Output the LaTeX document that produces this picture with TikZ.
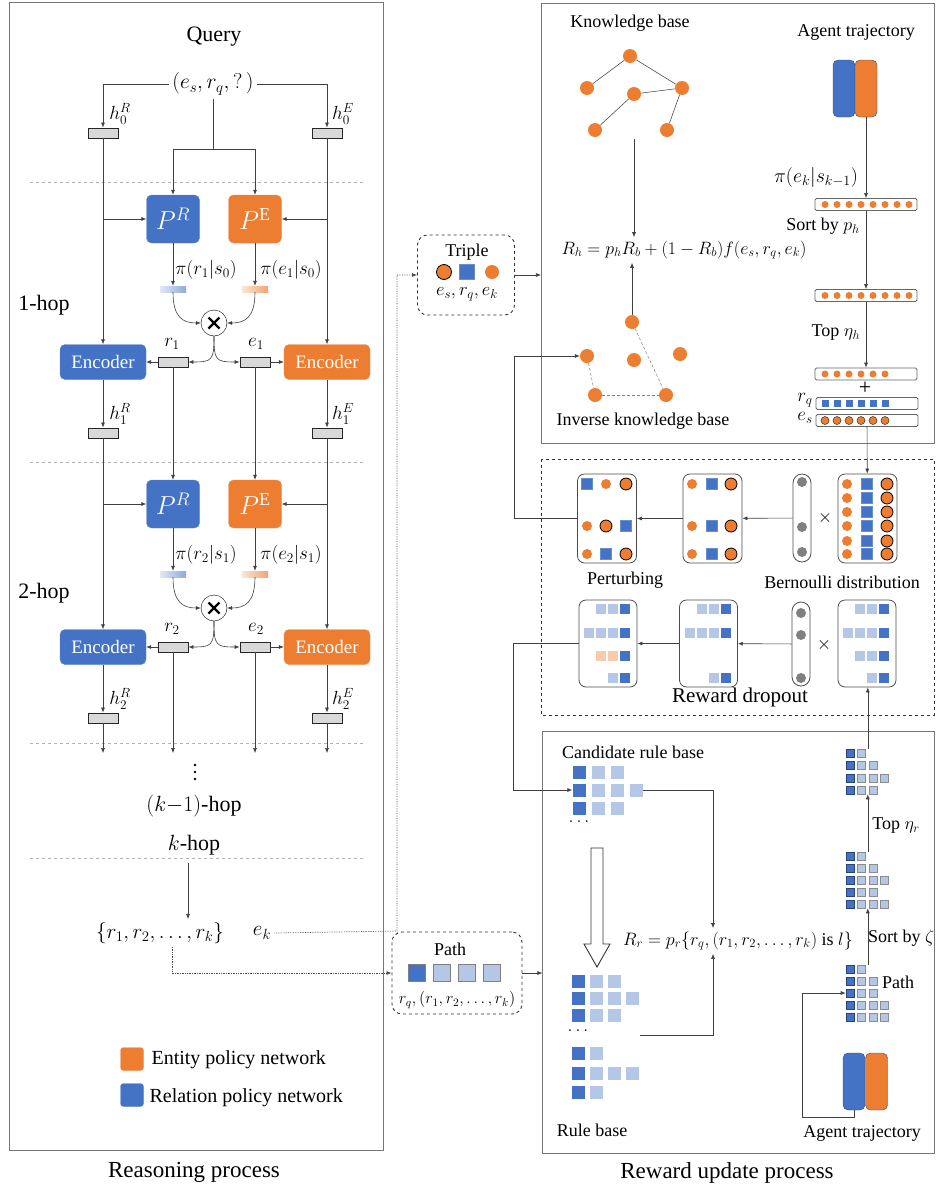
\documentclass[tikz,border=0pt]{standalone}
\usepackage{fix-cm}
\usepackage{amsmath}
\usepackage{fontspec}
\setmainfont{Liberation Serif}
\usetikzlibrary{arrows.meta, positioning, calc}

\definecolor{relblue}{HTML}{4472C4}
\definecolor{entorange}{HTML}{ED7D31}
\definecolor{paleblue}{HTML}{B4C7E7}
\definecolor{paleorange}{HTML}{F8CBAD}
\definecolor{boxgray}{HTML}{D9D9D9}
\definecolor{framegray}{HTML}{767676}

\begin{document}
\begin{tikzpicture}[x=1pt, y=-1pt, >={Latex[length=5pt,width=4pt]},
	txt/.style={font=\fontsize{18}{20}\selectfont, inner sep=1pt},
	bigtxt/.style={font=\fontsize{22}{24}\selectfont, inner sep=1pt},
	captxt/.style={font=\fontsize{23}{26}\selectfont, inner sep=1pt},
	mtxt/.style={font=\fontsize{19}{21}\selectfont, inner sep=1pt},
	rnet/.style={fill=relblue, draw=relblue!85!white, rounded corners=5pt, text=white, inner sep=0pt},
	enet/.style={fill=entorange, draw=entorange!85!white, rounded corners=5pt, text=white, inner sep=0pt},
	encbox/.style={minimum width=86pt, minimum height=35pt, font=\fontsize{19}{20}\selectfont},
	pbox/.style={minimum width=53pt, minimum height=48pt, font=\fontsize{26}{28}\selectfont},
	hbox/.style={draw=black!85, fill=boxgray, line width=0.9pt, minimum width=30pt, minimum height=10pt, inner sep=0pt},
	pbar/.style={minimum width=26pt, minimum height=6pt, inner sep=0pt},
	mult/.style={draw, circle, minimum size=26pt, inner sep=0pt},
	cross/.style={line width=2.4pt, black},
	flow/.style={->, black!75, line width=0.6pt},
	plain/.style={black!75, line width=0.6pt},
	sep/.style={dashed, black!30, line width=0.6pt},
	dotline/.style={->, densely dotted, black!70, line width=0.7pt},
	frame/.style={framegray, line width=0.8pt},
	kbnode/.style={circle, fill=entorange, minimum size=14pt, inner sep=0pt},
	odot/.style={circle, fill=entorange, minimum size=10pt, inner sep=0pt},
	ocirc/.style={circle, fill=entorange, draw=black, line width=0.8pt, minimum size=12pt, inner sep=0pt},
	bsq/.style={fill=relblue, draw=relblue!80!white, minimum size=11pt, inner sep=0pt},
	gdot/.style={circle, fill=black!50, minimum size=10pt, inner sep=0pt},
	vdot/.style={circle, fill=black, minimum size=2.6pt, inner sep=0pt},
	itembox/.style={draw=black!70, rounded corners=7pt, line width=0.8pt, minimum width=59pt, minimum height=89pt},
	pill/.style={draw=black!70, rounded corners=9pt, line width=0.8pt, minimum width=18pt},
	dotbar/.style={draw=black!60, rounded corners=1.5pt, line width=0.8pt, minimum width=102pt, minimum height=12pt, inner sep=0pt},
	lsq/.style={fill=paleblue, minimum size=10pt, inner sep=0pt},
	dsq/.style={fill=relblue, minimum size=10pt, inner sep=0pt},
	posq/.style={fill=paleorange, minimum size=10pt, inner sep=0pt},
	clsq/.style={fill=paleblue, minimum size=13pt, inner sep=0pt},
	cdsq/.style={fill=relblue, minimum size=13pt, inner sep=0pt},
	tlsq/.style={fill=paleblue, draw=black!45, line width=0.6pt, minimum size=8pt, inner sep=0pt},
	tdsq/.style={fill=relblue, draw=relblue!60!black, line width=0.6pt, minimum size=8pt, inner sep=0pt}]
	\useasboundingbox (0,0) rectangle (935,1189);
	%%% Reasoning process
	\draw[frame] (9,2) rectangle (383,1150);
	\node[bigtxt] (query) at (214,37) {Query};
	\node[font=\fontsize{21.5}{24}\selectfont] (qtrip) at (213,84) {$(e_s, r_q, ?\,)$};
	\node[hbox] (hr0) at (103,133) {};
	\node[hbox] (he0) at (327,133) {};
	\node[mtxt] (lhr0) at (120,114) {$h_0^R$};
	\node[mtxt] (lhe0) at (343,114) {$h_0^E$};
	\coordinate (r0) at (173,149);
	\coordinate (e0) at (255,149);
	\draw[flow] (qtrip.west) -| (hr0.north);
	\draw[flow] (qtrip.east) -| (he0.north);
	\draw[plain] (qtrip.south) -- (qtrip.south |- r0);
	\draw[plain] (r0) -- (e0);
	\foreach \y in {182, 462, 743, 858}
	\draw[sep] (30,\y) -- (365,\y);
	% hops
	\foreach \i/\j in {1/0, 2/1} {
		\pgfmathsetmacro{\dy}{(\i-1)*285}
		\node[rnet, pbox] (pr\i) at (173,219+\dy) {$P^R$};
		\node[enet, pbox] (pe\i) at (255,219+\dy) {$P^{\mathrm{E}}$};
		\node[pbar, left color=paleblue!40, right color=relblue!60] (pbr\i) at (173,289+\dy) {};
		\node[pbar, left color=paleorange!50, right color=entorange!70] (pbe\i) at (255,289+\dy) {};
		\node[mtxt] (lpr\i) at (206,270+\dy) {$\pi(r_\i|s_\j)$};
		\node[mtxt] (lpe\i) at (291,270+\dy) {$\pi(e_\i|s_\j)$};
		\node[mult] (x\i) at (214,323+\dy) {};
		\draw[cross] ([shift={(-5.5,-5.5)}]x\i.center) -- ([shift={(5.5,5.5)}]x\i.center);
		\draw[cross] ([shift={(-5.5,5.5)}]x\i.center) -- ([shift={(5.5,-5.5)}]x\i.center);
		\node[hbox] (r\i) at (173,362+\dy) {};
		\node[hbox] (e\i) at (255,362+\dy) {};
		\node[mtxt] (lr\i) at (172,344+\dy) {$r_\i$};
		\node[mtxt] (le\i) at (256,344+\dy) {$e_\i$};
		\node[rnet, encbox] (enr\i) at (103,362+\dy) {Encoder};
		\node[enet, encbox] (ene\i) at (327,362+\dy) {Encoder};
		\node[hbox] (hr\i) at (103,433+\dy) {};
		\node[hbox] (he\i) at (327,433+\dy) {};
		\node[mtxt] (lhr\i) at (120,414+\dy) {$h_\i^R$};
		\node[mtxt] (lhe\i) at (343,414+\dy) {$h_\i^E$};
		\draw[flow] (r\j) -- (pr\i);
		\draw[flow] (e\j) -- (pe\i);
		\draw[flow] (hr\j) -- (enr\i);
		\draw[flow] (he\j) -- (ene\i);
		\draw[flow] (hr\j |- pr\i) -- (pr\i);
		\draw[flow] (he\j |- pe\i) -- (pe\i);
		\draw[flow] (pr\i) -- (pbr\i);
		\draw[flow] (pe\i) -- (pbe\i);
		\draw[flow] (pbr\i.south) .. controls +(0,25) and +(-18,0) .. (x\i.west);
		\draw[flow] (pbe\i.south) .. controls +(0,25) and +(18,0) .. (x\i.east);
		\draw[flow] (x\i.south) .. controls +(0,24) and +(24,0) .. (r\i.east);
		\draw[flow] (x\i.south) .. controls +(0,24) and +(-24,0) .. (e\i.west);
		\draw[flow] (r\i) -- (enr\i);
		\draw[flow] (e\i) -- (ene\i);
		\draw[flow] (enr\i) -- (hr\i);
		\draw[flow] (ene\i) -- (he\i);
	}
	\node[bigtxt] (hop1) at (44,305) {1-hop};
	\node[bigtxt] (hop2) at (44,593) {2-hop};
	\coordinate (kmark) at (0,753);
	\draw[flow] (hr2) -- (hr2 |- kmark);
	\draw[flow] (r2) -- (r2 |- kmark);
	\draw[flow] (e2) -- (e2 |- kmark);
	\draw[flow] (he2) -- (he2 |- kmark);
	\foreach \k/\y in {1/765, 2/772, 3/779}
	\node[vdot] (vd\k) at (195,\y) {};
	\node[bigtxt] (hopk1) at (194,806) {$(k{-}1)$-hop};
	\node[bigtxt] (hopk) at (194,845) {$k$-hop};
	\coordinate (kout) at (188,863);
	\node[font=\fontsize{21}{24}\selectfont] (rset) at (160,933) {$\{r_1, r_2, \ldots, r_k\}$};
	\node[font=\fontsize{21}{24}\selectfont] (ek) at (262,933) {$e_k$};
	\draw[flow] (kout) -- (rset.north -| kout);
	% legend
	\node[enet, minimum size=23pt, rounded corners=3pt] (lege) at (132,1059) {};
	\node[font=\fontsize{20}{22}\selectfont, anchor=west] (legetxt) at (148,1060) {Entity policy network};
	\node[rnet, minimum size=23pt, rounded corners=3pt] (legr) at (132,1095) {};
	\node[font=\fontsize{20}{22}\selectfont, anchor=west] (legrtxt) at (146,1098) {Relation policy network};
	\node[captxt] (reason) at (194,1172) {Reasoning process};
	%%% Triple and Path
	\node[draw=black!80, dashed, rounded corners=10pt, line width=0.9pt, minimum width=97pt, minimum height=80pt] (triple) at (466,275) {};
	\node[txt] (tript) at (467,252) {Triple};
	\node[ocirc, minimum size=15pt] (tes) at (444,272) {};
	\node[bsq, minimum size=15pt] (trq) at (467,272) {};
	\node[kbnode] (tek) at (492,272) {};
	\node[font=\fontsize{18.5}{20}\selectfont] (tlab) at (467,294) {$e_s, r_q, e_k$};
	\node[draw=black!80, dashed, rounded corners=10pt, line width=0.9pt, minimum width=130pt, minimum height=82pt] (path) at (457,973) {};
	\node[txt] (patht) at (450,949) {Path};
	\node[fill=relblue, draw=black!50, minimum size=17pt, inner sep=0pt] (pq1) at (417,973) {};
	\foreach \k/\x in {2/442, 3/467, 4/492}
	\node[fill=paleblue, draw=black!50, minimum size=17pt, inner sep=0pt] (pq\k) at (\x,973) {};
	\node[font=\fontsize{16.3}{18}\selectfont] (plab) at (457,1000) {$r_q,(r_1,r_2,\ldots,r_k)$};
	\coordinate (tturn) at (397,931);
	\draw[dotline] (ek.east) -- (tturn) |- (triple.west);
	\draw[dotline] (rset.south) ++(12,0) |- (path.west);
	\draw[flow] (triple.east) -- ++(26,0);
	\draw[flow] (path.east) -- ++(20,0);
	%%% Reward shaping (top)
	\draw[frame] (541,3) rectangle (934,443);
	\node[txt] (kbt) at (630,23) {Knowledge base};
	\foreach \n/\x/\y in {1/630/56, 2/587/88, 3/634/94, 4/682/88, 5/595/130, 6/667/130}
	\node[kbnode] (kb\n) at (\x,\y) {};
	\foreach \a/\b in {1/2, 1/4, 3/4, 3/5, 4/6}
	\draw[black!70, line width=0.6pt] (kb\a) -- (kb\b);
	\node[font=\fontsize{17.9}{19}\selectfont] (rh) at (684,250) {$R_h = p_h R_b + (1-R_b) f(e_s, r_q, e_k)$};
	\draw[flow] (kb3) ++(0,45) -- (kb3 |- rh.north);
	\foreach \n/\x/\y in {1/632/322, 2/587/356, 3/634/360, 4/680/354, 5/595/395, 6/666/395}
	\node[kbnode] (ikb\n) at (\x,\y) {};
	\foreach \a/\b in {1/6, 2/5, 5/6}
	\draw[densely dashed, black!50, line width=0.5pt] (ikb\a) -- (ikb\b);
	\draw[flow] (ikb1) -- (ikb1 |- rh.south);
	\node[txt] (ikbt) at (643,421) {Inverse knowledge base};
	\node[txt] (att) at (856,32) {Agent trajectory};
	\node[rnet, draw=relblue!70!black, minimum width=22pt, minimum height=57pt] (tr1) at (844,88.5) {};
	\node[enet, draw=relblue!70!black, minimum width=22pt, minimum height=57pt] (te1) at (866,88.5) {};
	\node[dotbar] (bar1) at (866,204.5) {};
	\node[dotbar] (bar2) at (866,295.5) {};
	\node[dotbar] (bar3) at (866,374) {};
	\node[dotbar] (rqbar) at (867,403.5) {};
	\node[dotbar] (esbar) at (867,420.5) {};
	\foreach \k in {0,...,7} {
		\node[circle, fill=entorange, minimum size=7pt, inner sep=0pt] (b1d\k) at (825+12*\k,204.5) {};
		\node[circle, fill=entorange, minimum size=7pt, inner sep=0pt] (b2d\k) at (825+12*\k,295.5) {};
	}
	\foreach \k in {0,...,5} {
		\node[circle, fill=entorange, minimum size=7pt, inner sep=0pt] (b3d\k) at (825+12*\k,374) {};
		\node[fill=relblue, minimum size=7pt, inner sep=0pt] (rqd\k) at (825+12*\k,403.5) {};
		\node[circle, fill=entorange, draw=black!80, line width=0.5pt, minimum size=8pt, inner sep=0pt] (esd\k) at (825+12*\k,420.5) {};
	}
	\node[font=\fontsize{20}{22}\selectfont] (lpik) at (816,177) {$\pi(e_k|s_{k-1})$};
	\node[txt] (sortp) at (823,226) {Sort by $p_h$};
	\node[txt] (toph) at (836,333) {Top $\eta_h$};
	\node[bigtxt] (plus) at (865,388) {+};
	\node[mtxt] (lrq) at (805,400) {$r_q$};
	\node[mtxt] (les) at (805,418) {$e_s$};
	\draw[flow] (te1) -- (bar1);
	\draw[flow] (bar1) -- (bar2);
	\draw[flow] (bar2) -- (bar3);
	%%% Perturbing and dropout
	\draw[black!80, dashed, line width=0.9pt] (541,459) rectangle (934,715);
	\node[itembox] (pert) at (607,518.5) {};
	\node[itembox] (mixed) at (712.5,518.5) {};
	\node[pill, minimum height=88pt] (bern1) at (802,518) {};
	\node[txt] (times1) at (825,518) {$\times$};
	\node[itembox] (trips) at (867.5,518.5) {};
	\draw[flow] (esbar) -- (trips);
	\foreach \y [count=\k] in {484,498,512,526,541,554} {
		\node[odot] (to\k) at (847,\y) {};
		\node[bsq] (tb\k) at (867,\y) {};
		\node[ocirc] (tc\k) at (887,\y) {};
	}
	\foreach \y [count=\k] in {484,526,554} {
		\node[odot] (mo\k) at (692,\y) {};
		\node[bsq] (mb\k) at (712,\y) {};
		\node[ocirc] (mc\k) at (731,\y) {};
	}
	\node[bsq] (pa1) at (587,484) {};
	\node[odot] (pa2) at (606,484) {};
	\node[ocirc] (pa3) at (626,484) {};
	\node[odot] (pb1) at (587,526) {};
	\node[ocirc] (pb2) at (606,526) {};
	\node[bsq] (pb3) at (626,526) {};
	\node[odot] (pc1) at (587,554) {};
	\node[bsq] (pc2) at (606,554) {};
	\node[ocirc] (pc3) at (626,554) {};
	\foreach \y [count=\k] in {482,527,552}
	\node[gdot] (g1\k) at (802,\y) {};
	\draw[flow] (bern1) -- (mixed);
	\draw[flow] (mixed) -- (pert);
	\node[txt] (pertt) at (625,580) {Perturbing};
	\node[txt] (bernt) at (842,582) {Bernoulli distribution};
	% dropout
	\node[itembox, minimum width=58pt, minimum height=87pt] (drop) at (608,643.5) {};
	\node[itembox, minimum width=58pt, minimum height=87pt] (keep) at (708.5,643.5) {};
	\node[pill, minimum height=84pt] (bern2) at (801,644) {};
	\node[txt] (times2) at (824,645) {$\times$};
	\node[itembox, minimum width=58pt, minimum height=87pt] (rules) at (867,643.5) {};
	\foreach \y [count=\k] in {613,635,678}
	\node[gdot] (g2\k) at (801,\y) {};
	% rows: style list per box
	\foreach \s/\x/\y [count=\k] in {lsq/860/609, lsq/872/609, dsq/884/609, lsq/848/633, lsq/860/633, lsq/872/633, dsq/884/633, lsq/860/656, lsq/872/656, dsq/884/656, lsq/872/678, dsq/884/678}
	\node[\s] (ru\k) at (\x,\y) {};
	\foreach \s/\x/\y [count=\k] in {lsq/702/609, lsq/714/609, dsq/726/609, lsq/690/633, lsq/702/633, lsq/714/633, dsq/726/633, lsq/714/678, dsq/726/678}
	\node[\s] (ke\k) at (\x,\y) {};
	\foreach \s/\x/\y [count=\k] in {lsq/601/609, lsq/613/609, dsq/625/609, lsq/589/633, lsq/601/633, lsq/613/633, dsq/625/633, posq/601/656, posq/613/656, dsq/625/656, lsq/613/678, dsq/625/678}
	\node[\s] (dr\k) at (\x,\y) {};
	\draw[flow] (bern2) -- (keep);
	\draw[flow] (keep) -- (drop);
	\node[font=\fontsize{21}{23}\selectfont] (dropt) at (740,697) {Reward dropout};
	%%% Rule base (bottom)
	\draw[frame] (542,731) rectangle (934,1153);
	\node[txt] (candt) at (633,752) {Candidate rule base};
	\foreach \r/\n/\y in {1/3/772, 2/4/790, 3/3/808}
	\foreach \c in {1,...,\n} {
		\ifnum\c=1 \node[cdsq] (cand\r\c) at (560+19*\c,\y) {};
		\else \node[clsq] (cand\r\c) at (560+19*\c,\y) {}; \fi
	}
	\node[txt] (canddots) at (579,822) {$\ldots$};
	\draw[black!80, fill=white, line width=0.9pt] (591,848) -- (603,848) -- (603,944) -- (610,944) -- (597,967) -- (584,944) -- (591,944) -- cycle;
	\foreach \r/\n/\y in {1/3/981, 2/4/998, 3/3/1015, 4/2/1053, 5/4/1073, 6/2/1092}
	\foreach \c in {1,...,\n} {
		\ifnum\c=1 \node[cdsq] (rule\r\c) at (560+18*\c,\y) {};
		\else \node[clsq] (rule\r\c) at (560+18*\c,\y) {}; \fi
	}
	\node[txt] (ruledots) at (578,1031) {$\ldots$};
	\node[txt] (rulet) at (592,1130) {Rule base};
	\node[font=\fontsize{18}{20}\selectfont] (rr) at (738,941) {$R_r = p_r\{r_q,(r_1,r_2,\ldots,r_k)\ \textrm{is}\ l\}$};
	\draw[flow] (cand24.east) -| ([xshift=-25pt]rr.north);
	\draw[flow] (ruledots.east) ++(50,4) -| ([xshift=-25pt]rr.south);
	\draw[flow] (drop.west) -- ++(-65,0) |- (cand21.west);
	\draw[flow] (pert.west) -- ++(-63,0) |- (ikb2);
	% stacks of paths
	\foreach \r/\n/\y in {1/2/753, 2/3/765, 3/4/778, 4/3/790}
	\foreach \c in {1,...,\n} {
		\ifnum\c=1 \node[tdsq] (ts\r\c) at (838.5+11.5*\c,\y) {};
		\else \node[tlsq] (ts\r\c) at (838.5+11.5*\c,\y) {}; \fi
	}
	\foreach \r/\n/\y in {1/2/856, 2/3/868, 3/4/880, 4/3/892, 5/4/904}
	\foreach \c in {1,...,\n} {
		\ifnum\c=1 \node[tdsq] (ms\r\c) at (838.5+11.5*\c,\y) {};
		\else \node[tlsq] (ms\r\c) at (838.5+11.5*\c,\y) {}; \fi
	}
	\foreach \r/\n/\y in {1/2/969, 2/3/981, 3/3/993, 4/4/1005, 5/4/1017}
	\foreach \c in {1,...,\n} {
		\ifnum\c=1 \node[tdsq] (ps\r\c) at (838.5+11.5*\c,\y) {};
		\else \node[tlsq] (ps\r\c) at (838.5+11.5*\c,\y) {}; \fi
	}
	\draw[flow] ([xshift=2pt]ts12.north east) -- ([xshift=2pt]ts12.north east |- rules.south);
	\draw[flow] ([xshift=2pt]ms12.north east) -- ([xshift=2pt]ms12.north east |- ts42.south);
	\draw[flow] ([xshift=2pt]ps12.north east) -- ([xshift=2pt]ps12.north east |- ms52.south);
	\node[txt] (topr) at (896,826) {Top $\eta_r$};
	\node[txt, anchor=west] (sortz) at (867,938) {Sort by $\zeta$};
	\node[txt] (pathl) at (898,982) {Path};
	\node[rnet, draw=relblue!70!black, minimum width=22pt, minimum height=57pt] (tr2) at (854,1081.5) {};
	\node[enet, draw=relblue!70!black, minimum width=22pt, minimum height=57pt] (te2) at (876.5,1081.5) {};
	\draw[flow] (tr2.south) -- ++(0,7) -- ++(-52,0) |- (ps31.west);
	\node[txt] (att2) at (862,1133) {Agent trajectory};
	\node[captxt] (rewardt) at (727,1173) {Reward update process};
\end{tikzpicture}
\end{document}
